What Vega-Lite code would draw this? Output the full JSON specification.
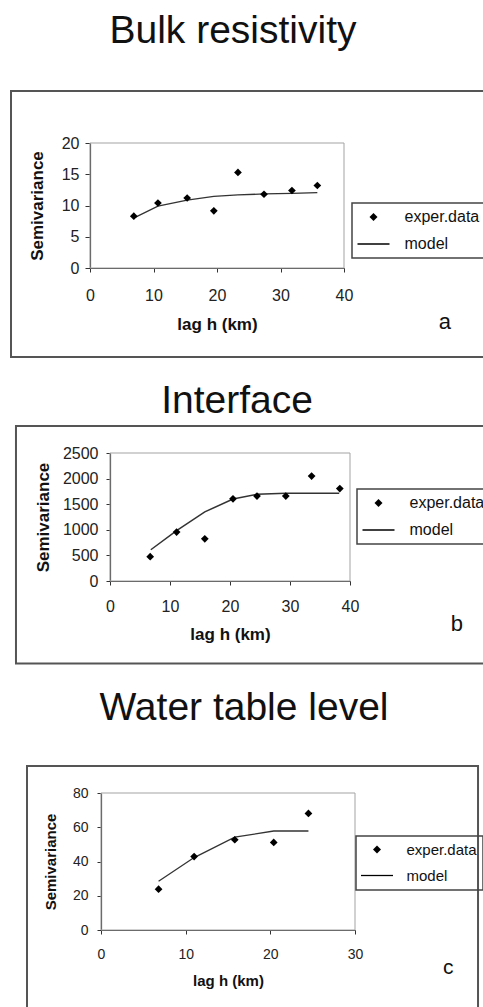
{
  "$schema": "https://vega.github.io/schema/vega-lite/v6.json",
  "padding": {"left": 10, "top": 12, "right": 0, "bottom": 0},
  "spacing": 23,
  "resolve": {"scale": {"shape": "independent"}, "legend": {"shape": "independent"}},
  "datasets": {
    "pointsA": [
      {"lag": 6.9, "gamma": 8.3, "series": "exper.data"},
      {"lag": 10.7, "gamma": 10.4, "series": "exper.data"},
      {"lag": 15.3, "gamma": 11.2, "series": "exper.data"},
      {"lag": 19.5, "gamma": 9.15, "series": "exper.data"},
      {"lag": 23.3, "gamma": 15.3, "series": "exper.data"},
      {"lag": 27.4, "gamma": 11.8, "series": "exper.data"},
      {"lag": 31.8, "gamma": 12.4, "series": "exper.data"},
      {"lag": 35.8, "gamma": 13.2, "series": "exper.data"}
    ],
    "modelA": [
      {"lag": 7.1, "gamma": 8.1},
      {"lag": 10.7, "gamma": 9.9},
      {"lag": 15.3, "gamma": 10.85},
      {"lag": 19.5, "gamma": 11.45},
      {"lag": 23.3, "gamma": 11.7},
      {"lag": 27.4, "gamma": 11.85},
      {"lag": 31.8, "gamma": 11.95},
      {"lag": 35.8, "gamma": 12.05}
    ],
    "pointsB": [
      {"lag": 6.7, "gamma": 476, "series": "exper.data"},
      {"lag": 11.1, "gamma": 955, "series": "exper.data"},
      {"lag": 15.8, "gamma": 825, "series": "exper.data"},
      {"lag": 20.5, "gamma": 1605, "series": "exper.data"},
      {"lag": 24.5, "gamma": 1660, "series": "exper.data"},
      {"lag": 29.3, "gamma": 1660, "series": "exper.data"},
      {"lag": 33.6, "gamma": 2050, "series": "exper.data"},
      {"lag": 38.3, "gamma": 1805, "series": "exper.data"}
    ],
    "modelB": [
      {"lag": 6.8, "gamma": 610},
      {"lag": 11.1, "gamma": 985},
      {"lag": 15.8, "gamma": 1350},
      {"lag": 20.5, "gamma": 1600},
      {"lag": 24.5, "gamma": 1695},
      {"lag": 29.3, "gamma": 1712},
      {"lag": 33.6, "gamma": 1712},
      {"lag": 38.2, "gamma": 1712}
    ],
    "pointsC": [
      {"lag": 6.8, "gamma": 23.8, "series": "exper.data"},
      {"lag": 11.0, "gamma": 42.9, "series": "exper.data"},
      {"lag": 15.8, "gamma": 52.7, "series": "exper.data"},
      {"lag": 20.4, "gamma": 51.1, "series": "exper.data"},
      {"lag": 24.5, "gamma": 68.1, "series": "exper.data"}
    ],
    "modelC": [
      {"lag": 6.8, "gamma": 28.5},
      {"lag": 11.0, "gamma": 42.3},
      {"lag": 15.8, "gamma": 54.2},
      {"lag": 20.4, "gamma": 57.8},
      {"lag": 24.5, "gamma": 57.8}
    ]
  },
  "vconcat": [
    {
      "title": {"text": "Bulk resistivity", "frame": "group", "dx": 16, "offset": 8, "baseline": "alphabetic"},
      "width": 254,
      "height": 125,
      "layer": [
        {
          "data": {"values": [{"panel": "a"}]},
          "mark": {"type": "rect", "filled": false, "stroke": "#555", "strokeWidth": 2, "clip": false},
          "encoding": {
            "x": {"datum": -12.44, "type": "quantitative", "scale": {"domain": [0, 40], "nice": false, "zero": false}, "title": "lag h (km)",
              "axis": {"values": [0, 10, 20, 30, 40], "tickCount": 20, "labelFontSize": 16, "titleFontSize": 17, "tickSize": 4, "labelPadding": 15, "titlePadding": 13, "labelFlush": false, "labelOverlap": false}},
            "x2": {"datum": 63.6},
            "y": {"datum": 28.32, "type": "quantitative", "scale": {"domain": [0, 20], "nice": false, "zero": false}, "title": "Semivariance",
              "axis": {"values": [0, 5, 10, 15, 20], "tickCount": 20, "labelFontSize": 16, "titleFontSize": 17, "tickSize": 5, "labelPadding": 6, "titlePadding": 15, "labelFlush": false, "labelOverlap": false}},
            "y2": {"datum": -14.24}
          }
        },
        {
          "data": {"values": [{"panel": "a"}]},
          "mark": {"type": "rect", "filled": false, "stroke": "#a3a3a3", "strokeWidth": 1},
          "encoding": {
            "x": {"datum": 0, "type": "quantitative", "title": "lag h (km)"},
            "x2": {"datum": 40},
            "y": {"datum": 0, "type": "quantitative", "title": "Semivariance"},
            "y2": {"datum": 20}
          }
        },
        {
          "data": {"name": "modelA"},
          "mark": {"type": "line", "color": "#333", "strokeWidth": 1.3},
          "encoding": {
            "x": {"field": "lag", "type": "quantitative", "title": "lag h (km)"},
            "y": {"field": "gamma", "type": "quantitative", "title": "Semivariance"}
          }
        },
        {
          "data": {"name": "pointsA"},
          "mark": {"type": "point", "filled": true, "color": "black", "opacity": 1, "size": 60},
          "encoding": {
            "x": {"field": "lag", "type": "quantitative", "title": "lag h (km)",
              "axis": {"values": [0, 10, 20, 30, 40], "tickCount": 20, "labelFontSize": 16, "titleFontSize": 17, "tickSize": 4, "labelPadding": 15, "titlePadding": 13, "labelFlush": false, "labelOverlap": false}},
            "y": {"field": "gamma", "type": "quantitative", "title": "Semivariance",
              "axis": {"values": [0, 5, 10, 15, 20], "tickCount": 20, "labelFontSize": 16, "titleFontSize": 17, "tickSize": 5, "labelPadding": 6, "titlePadding": 15, "labelFlush": false, "labelOverlap": false}},
            "shape": {"field": "series", "type": "nominal",
              "scale": {"domain": ["exper.data", "model"], "range": ["diamond", "M-4,-0.16L4,-0.16L4,0.16L-4,0.16Z"]},
              "legend": {"orient": "none", "legendX": 262, "legendY": 60, "padding": 6, "labelOffset": 23, "symbolOffset": 7.5, "rowPadding": 11, "labelFontSize": 16}}
          }
        },
        {
          "data": {"values": [{"panel": "a"}]},
          "mark": {"type": "text", "fontSize": 22, "clip": false, "color": "#111"},
          "encoding": {
            "text": {"field": "panel"},
            "x": {"datum": 55.9, "type": "quantitative", "title": "lag h (km)"},
            "y": {"datum": -8.64, "type": "quantitative", "title": "Semivariance"}
          }
        }
      ]
    },
    {
      "title": {"text": "Interface", "frame": "group", "dx": 17, "offset": -27, "baseline": "alphabetic"},
      "width": 260,
      "height": 128,
      "layer": [
        {
          "data": {"values": [{"panel": "b"}]},
          "mark": {"type": "rect", "filled": false, "stroke": "#555", "strokeWidth": 2, "clip": false},
          "encoding": {
            "x": {"datum": -15.67, "type": "quantitative", "scale": {"domain": [0, 40], "nice": false, "zero": false, "range": [20, 260]}, "title": "lag h (km)",
              "axis": {"values": [0, 10, 20, 30, 40], "tickCount": 20, "labelFontSize": 16, "titleFontSize": 17, "tickSize": 4, "labelPadding": 13, "titlePadding": 12, "labelFlush": false, "labelOverlap": false}},
            "x2": {"datum": 63.17},
            "y": {"datum": 3028, "type": "quantitative", "scale": {"domain": [0, 2500], "nice": false, "zero": false}, "title": "Semivariance",
              "axis": {"values": [0, 500, 1000, 1500, 2000, 2500], "tickCount": 20, "format": "d", "offset": -20, "labelFontSize": 16, "titleFontSize": 17, "tickSize": 4, "labelPadding": 8, "titlePadding": 10, "labelFlush": false, "labelOverlap": false}},
            "y2": {"datum": -1611}
          }
        },
        {
          "data": {"values": [{"panel": "b"}]},
          "mark": {"type": "rect", "filled": false, "stroke": "#a3a3a3", "strokeWidth": 1},
          "encoding": {
            "x": {"datum": 0, "type": "quantitative", "title": "lag h (km)"},
            "x2": {"datum": 40},
            "y": {"datum": 0, "type": "quantitative", "title": "Semivariance"},
            "y2": {"datum": 2500}
          }
        },
        {
          "data": {"name": "modelB"},
          "mark": {"type": "line", "color": "#333", "strokeWidth": 1.5},
          "encoding": {
            "x": {"field": "lag", "type": "quantitative", "title": "lag h (km)"},
            "y": {"field": "gamma", "type": "quantitative", "title": "Semivariance"}
          }
        },
        {
          "data": {"name": "pointsB"},
          "mark": {"type": "point", "filled": true, "color": "black", "opacity": 1, "size": 60},
          "encoding": {
            "x": {"field": "lag", "type": "quantitative", "title": "lag h (km)",
              "axis": {"values": [0, 10, 20, 30, 40], "tickCount": 20, "labelFontSize": 16, "titleFontSize": 17, "tickSize": 4, "labelPadding": 13, "titlePadding": 12, "labelFlush": false, "labelOverlap": false}},
            "y": {"field": "gamma", "type": "quantitative", "title": "Semivariance",
              "axis": {"values": [0, 500, 1000, 1500, 2000, 2500], "tickCount": 20, "format": "d", "offset": -20, "labelFontSize": 16, "titleFontSize": 17, "tickSize": 4, "labelPadding": 8, "titlePadding": 10, "labelFlush": false, "labelOverlap": false}},
            "shape": {"field": "series", "type": "nominal",
              "scale": {"domain": ["exper.data", "model"], "range": ["diamond", "M-4,-0.18L4,-0.18L4,0.18L-4,0.18Z"]},
              "legend": {"orient": "none", "legendX": 267, "legendY": 36, "padding": 6, "labelOffset": 23, "symbolOffset": 7.5, "rowPadding": 11, "labelFontSize": 16}}
          }
        },
        {
          "data": {"values": [{"panel": "b"}]},
          "mark": {"type": "text", "fontSize": 22, "clip": false, "color": "#111"},
          "encoding": {
            "text": {"field": "panel"},
            "x": {"datum": 57.8, "type": "quantitative", "title": "lag h (km)"},
            "y": {"datum": -848, "type": "quantitative", "title": "Semivariance"}
          }
        }
      ]
    },
    {
      "title": {"text": "Water table level", "frame": "group", "dx": 21.5, "offset": 6, "baseline": "alphabetic"},
      "width": 265,
      "height": 137,
      "layer": [
        {
          "data": {"values": [{"panel": "c"}]},
          "mark": {"type": "rect", "filled": false, "stroke": "#555", "strokeWidth": 2, "clip": false},
          "encoding": {
            "x": {"datum": -8.74, "type": "quantitative", "scale": {"domain": [0, 30], "nice": false, "zero": false, "range": [11, 265]}, "title": "lag h (km)",
              "axis": {"values": [0, 10, 20, 30], "tickCount": 20, "labelFontSize": 14, "titleFontSize": 15, "tickSize": 4, "labelPadding": 13, "titlePadding": 12, "labelFlush": false, "labelOverlap": false}},
            "x2": {"datum": 44.53},
            "y": {"datum": 95.8, "type": "quantitative", "scale": {"domain": [0, 80], "nice": false, "zero": false}, "title": "Semivariance",
              "axis": {"values": [0, 20, 40, 60, 80], "tickCount": 20, "offset": -11, "labelFontSize": 14, "titleFontSize": 15, "tickSize": 4, "labelPadding": 9, "titlePadding": 14, "labelFlush": false, "labelOverlap": false}},
            "y2": {"datum": -50}
          }
        },
        {
          "data": {"values": [{"panel": "c"}]},
          "mark": {"type": "rect", "filled": false, "stroke": "#a3a3a3", "strokeWidth": 1},
          "encoding": {
            "x": {"datum": 0, "type": "quantitative", "title": "lag h (km)"},
            "x2": {"datum": 30},
            "y": {"datum": 0, "type": "quantitative", "title": "Semivariance"},
            "y2": {"datum": 80}
          }
        },
        {
          "data": {"name": "modelC"},
          "mark": {"type": "line", "color": "#333", "strokeWidth": 1.3},
          "encoding": {
            "x": {"field": "lag", "type": "quantitative", "title": "lag h (km)"},
            "y": {"field": "gamma", "type": "quantitative", "title": "Semivariance"}
          }
        },
        {
          "data": {"name": "pointsC"},
          "mark": {"type": "point", "filled": true, "color": "black", "opacity": 1, "size": 60},
          "encoding": {
            "x": {"field": "lag", "type": "quantitative", "title": "lag h (km)",
              "axis": {"values": [0, 10, 20, 30], "tickCount": 20, "labelFontSize": 14, "titleFontSize": 15, "tickSize": 4, "labelPadding": 13, "titlePadding": 12, "labelFlush": false, "labelOverlap": false}},
            "y": {"field": "gamma", "type": "quantitative", "title": "Semivariance",
              "axis": {"values": [0, 20, 40, 60, 80], "tickCount": 20, "offset": -11, "labelFontSize": 14, "titleFontSize": 15, "tickSize": 4, "labelPadding": 9, "titlePadding": 14, "labelFlush": false, "labelOverlap": false}},
            "shape": {"field": "series", "type": "nominal",
              "scale": {"domain": ["exper.data", "model"], "range": ["diamond", "M-4,-0.16L4,-0.16L4,0.16L-4,0.16Z"]},
              "legend": {"orient": "none", "legendX": 266, "legendY": 43, "padding": 6, "labelOffset": 22, "symbolOffset": 7.5, "rowPadding": 10, "labelFontSize": 15}}
          }
        },
        {
          "data": {"values": [{"panel": "c"}]},
          "mark": {"type": "text", "fontSize": 21, "clip": false, "color": "#111"},
          "encoding": {
            "text": {"field": "panel"},
            "x": {"datum": 41.0, "type": "quantitative", "title": "lag h (km)"},
            "y": {"datum": -22.4, "type": "quantitative", "title": "Semivariance"}
          }
        }
      ]
    }
  ],
  "config": {
    "font": "Liberation Sans",
    "view": {"stroke": null},
    "axis": {"grid": false, "labelOverlap": false, "domainColor": "#333", "tickColor": "#333", "domainWidth": 1.2, "labelColor": "#222", "titleColor": "#111", "labelFont": "Liberation Sans", "titleFont": "Liberation Sans", "titleFontWeight": "bold"},
    "legend": {"title": null, "strokeColor": "#444", "strokeWidth": 1.5, "labelColor": "#111", "labelFont": "Liberation Sans", "symbolSize": 64, "symbolFillColor": "black"},
    "title": {"font": "Liberation Sans", "fontSize": 39, "fontWeight": "normal", "color": "#111"}
  }
}
